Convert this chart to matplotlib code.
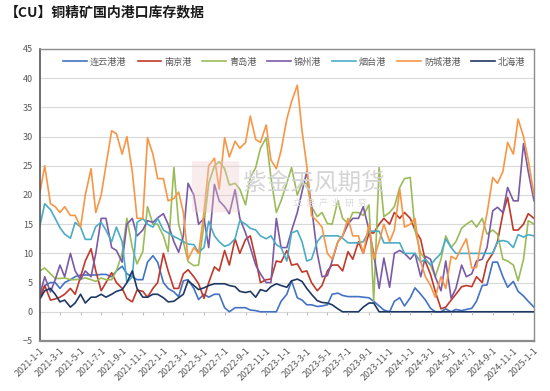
import numpy as np
import pandas as pd
import matplotlib
matplotlib.use("Agg")
import matplotlib.pyplot as plt
from matplotlib.patches import FancyBboxPatch

plt.rcParams['font.family'] = ['Noto Sans CJK SC', 'DejaVu Sans']

# 半月数据点 2021-01-01 ... 2024-12-15, 最后一个点 2025-01-01
dates = list(pd.date_range('2021-01-01', '2024-12-31', freq='SMS')) + [pd.Timestamp('2025-01-01')]

lianyungang = [2.4, 4.5, 5, 5, 4, 5, 5.5, 6, 6.3, 6.3, 6.3, 6.3, 6.4, 6.4, 6, 7, 7.8, 6.5, 6, 5.5,
               5.5, 8.5, 9.6, 8.5, 5, 4, 3.4, 2.6, 5.3, 5.5, 4, 2.1, 3, 2.5, 3, 3, 0.7, 0, 0.7, 0.7,
               0.7, 0.3, 0.2, 0, 0, 0, 0, 1.8, 3, 5.3, 2.4, 2, 1.2, 1.2, 0.9, 1, 1.2, 3, 3.2, 2.8,
               2.6, 2.6, 2.6, 2.5, 2.4, 1.8, 1, 0.3, 0, 1.8, 2.4, 1, 2.4, 4.1, 3, 2, 0.6, 0, 0, 0.5,
               0, 0.4, 0.2, 0.4, 0.6, 1.8, 4.5, 4.6, 8.5, 8.5, 6, 4.2, 5.2, 3.5, 2.7, 1.8, 0.8]
nanjing = [2.4, 4.5, 2, 2.2, 2.5, 3, 4, 3, 6, 8.7, 10.8, 7, 3.6, 5, 6.7, 5, 4, 2.3, 1.7, 3.7,
           3.5, 2.5, 4, 5, 10, 7, 4, 4, 6.5, 7.2, 6, 4.8, 2.3, 5, 7.7, 7, 10.5, 8, 12.5, 10,
           12.4, 13, 9, 5, 5.5, 5.6, 8.7, 8.5, 10.5, 8, 8.2, 6.8, 7, 5, 3.6, 4.5, 7, 8, 8, 7,
           10.3, 9, 12, 10, 13.5, 13.5, 15, 16, 15, 17, 16, 17, 16, 14, 12.4, 8.6, 6.4, 3.5, 0.5, 0.8,
           2, 3, 4.3, 4.5, 4.3, 6, 5, 8.5, 10, 12, 16.8, 19.6, 14, 14, 15, 16.8, 16]
qingdao = [7, 7.5, 6.5, 5.7, 5.7, 5.8, 5.5, 5.5, 5.6, 5.8, 5.5, 5.2, 5.8, 5.5, 5.5, 7, 10, 16, 11, 8.2,
           10.3, 18, 15, 15, 13, 10.3, 24.7, 15, 12, 8.6, 7.9, 8, 15, 22, 25, 25.7, 24.5, 21.7, 22, 21,
           18.3, 23, 24.7, 28, 29.8, 23, 17, 19, 22, 24.7, 20, 22, 22, 18, 16.3, 17, 15.1, 15, 19, 16,
           15.1, 17, 17, 16.5, 18.3, 1.9, 24.7, 16.3, 17, 18, 21.3, 22.8, 23, 14, 10, 9, 8, 6, 9, 13,
           11, 12, 14.3, 15, 15.6, 14.5, 16, 13.3, 14, 13.3, 9, 8.7, 8, 5.3, 9, 15.6, 15]
jinzhou = [3, 6, 3.4, 5.5, 8, 6, 10, 7, 5.5, 7, 6, 10, 16, 16, 11, 10.5, 8.5, 15, 16, 13,
           14, 15.6, 15.3, 16.1, 16.8, 15, 12, 10.2, 13, 22, 20, 15, 16, 11, 21.8, 19, 18, 16.8, 20.9, 16,
           13.5, 11, 8, 6.5, 5, 5, 16, 11, 11, 13.9, 17, 20.6, 24, 18, 10, 6, 6.2, 8.7, 12, 13,
           15, 16, 16, 18, 14, 10, 4, 9.2, 4.2, 10, 10.5, 10, 9, 10, 6, 9.5, 9, 6, 3.6, 8.7,
           2.3, 4, 8, 6, 6.5, 8.7, 9, 11, 17.3, 17.9, 17, 21.3, 19, 19, 28.8, 24, 19]
yantai = [14.8, 18.5, 17.5, 16, 14.4, 13.3, 12.6, 15.3, 14.5, 12.4, 12.4, 14.6, 15.3, 14, 12, 14.5, 12, 5, 6, 15.3,
          16, 15, 14.5, 16, 14, 13.5, 12.9, 12.5, 12, 11.6, 11.5, 10.2, 11, 15.5, 13, 12, 11.2, 11.5, 12.5, 15.6,
          15, 14.3, 14, 13, 12.5, 13, 11.5, 11, 8.7, 13.5, 13.9, 12, 8.7, 9, 12, 13, 13, 13, 13, 12.6,
          11.8, 11.8, 11.8, 12, 13.8, 13.8, 13.8, 11.8, 11.8, 11.8, 11.8, 10, 10, 10, 8.5, 9, 8, 9, 10, 12.5,
          11, 10, 10, 10, 10, 10, 10, 10, 10, 12, 12.2, 12, 11, 13.2, 12.8, 13.2, 13]
fangcheng = [20.5, 25, 18.5, 18, 17, 18, 16.5, 16.5, 14.5, 20, 24.5, 17, 20, 25, 31, 30.5, 27, 30, 24, 16,
             16, 29.8, 27, 22.8, 22.8, 19, 19.4, 20.5, 17, 9, 11, 10, 17, 25, 26.3, 21, 29.8, 26.5, 29.2, 28,
             29, 33.5, 29.5, 29, 32, 26, 24.5, 27.6, 33, 36, 38.8, 31, 25, 16.5, 15.5, 14.5, 10, 9, 12, 13,
             16, 13, 13, 10, 15, 9, 12, 15, 12, 14, 21, 14.5, 15, 16, 8.5, 6, 4.5, 2.5, 6, 4,
             9.5, 9, 11, 12.5, 7.5, 7.6, 13, 16.8, 23, 22, 24, 29, 27, 33, 30, 26, 20]
beihai = [2.2, 3.6, 4, 3, 1.7, 2, 0.8, 1.5, 3, 1.5, 2.5, 2.5, 3, 2.5, 3, 3.5, 3.8, 5, 7, 4,
          2.5, 2.5, 3, 3, 2.4, 1.7, 1.8, 2.4, 3, 5.3, 4.5, 3.8, 4.1, 4.5, 4.8, 4.8, 4.8, 4.5, 4.3, 3.5,
          3.3, 3.5, 2.5, 3.8, 3.5, 4.3, 4.8, 4.5, 4.2, 5.3, 5.6, 5.2, 4, 3, 1.9, 1.6, 1.5, 1.2, 0.5, 0,
          0, 0, 0, 0.8, 1.5, 1.5, 0, 0, 0, 0, 0, 0, 0, 0, 0, 0, 0, 0, 0, 0,
          0, 0, 0, 0, 0, 0, 0, 0, 0, 0, 0, 0, 0, 0, 0, 0, 0]

series = [
    ("连云港港", lianyungang, "#4472C4"),
    ("南京港", nanjing, "#C0392B"),
    ("青岛港", qingdao, "#9BBB59"),
    ("锦州港", jinzhou, "#7B5AA6"),
    ("烟台港", yantai, "#4BACC6"),
    ("防城港港", fangcheng, "#F79646"),
    ("北海港", beihai, "#1F3864"),
]

fig = plt.figure(figsize=(5.5, 3.91), dpi=100)
ax = fig.add_axes([0.0727, 0.1279, 0.8982, 0.7468])

# 水印
fig.text(0.57, 0.532, "紫金天风期货", fontsize=17, color="#d4d4d4", ha="center", va="center", zorder=0)
fig.text(0.60, 0.48, "立  足  产  业  研  究", fontsize=6.5, color="#dadada", ha="center", va="center", zorder=0)
fig.patches.append(FancyBboxPatch((0.352, 0.46), 0.08, 0.125, boxstyle="round,pad=0.003",
                                  transform=fig.transFigure, facecolor="#efc9c9", edgecolor="none",
                                  alpha=0.35, zorder=0))

for name, vals, color in series:
    ax.plot(dates, vals, color=color, lw=1.2, label=name)

ax.set_ylim(-5, 45)
ax.set_yticks(range(-5, 46, 5))
ax.set_xlim(pd.Timestamp('2021-01-01'), pd.Timestamp('2025-01-01'))
ticks = pd.date_range('2021-01-01', '2025-01-01', freq='2MS')
ax.set_xticks(ticks)
ax.set_xticklabels([f"{d.year}-{d.month}-{d.day}" for d in ticks], rotation=45,
                   ha="right", rotation_mode="anchor")
ax.tick_params(axis="x", length=0, pad=4, labelsize=6.5, labelcolor="#595959")
ax.tick_params(axis="y", length=0, pad=5, labelsize=6.5, labelcolor="#595959")

ax.grid(axis="y", color="#d9d9d9", lw=0.8)
ax.set_axisbelow(True)
ax.vlines(ticks, -0.6, 0, color="#bfbfbf", lw=0.8)

ax.spines["left"].set_color("#555555")
ax.spines["left"].set_linewidth(1.2)
ax.spines["bottom"].set_color("#8c8c8c")
ax.spines["bottom"].set_linewidth(1.6)
for s in ("top", "right"):
    ax.spines[s].set_color("#8c8c8c")
    ax.spines[s].set_linewidth(1.0)

leg = ax.legend(loc="upper center", bbox_to_anchor=(0.515, 1.0), ncol=7, frameon=False,
                fontsize=6.6, handlelength=2.6, columnspacing=1.2, handletextpad=0.3)
for t in leg.get_texts():
    t.set_color("#595959")

fig.text(0.009, 0.968, "【CU】铜精矿国内港口库存数据", fontsize=10, fontweight="bold",
         ha="left", va="center", color="#1a1a1a")

fig.savefig("out.png", dpi=100)
